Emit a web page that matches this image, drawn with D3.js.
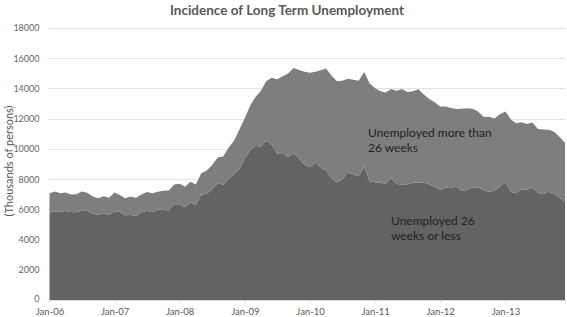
<!DOCTYPE html>
<html>
<head>
<meta charset="utf-8">
<script src="https://cdn.jsdelivr.net/npm/d3@7"></script>
<style>
  body { margin: 0; background: #fff; }
  text { font-family: Lato, "Open Sans", sans-serif; }
</style>
</head>
<body>
<div class="svg_container"></div>
<script>
const WIDTH = 567;
const HEIGHT = 317;
const LEFT = 49.5;
const RIGHT = 565;
const TOP = 28;
const BOTTOM = 300;

// months Jan-06 .. Dec-13
const startMonth = new Date(Date.UTC(2006, 0, 1));
const endMonth = new Date(Date.UTC(2013, 11, 1));

// unemployed 26 weeks or less (thousands)
var shortTerm = [
  5778, 5873, 5823, 5884, 5826, 5806, 5910, 5892, 5701, 5634, 5745, 5631,
  5878, 5817, 5611, 5617, 5559, 5811, 5901, 5811, 5989, 5961, 5936, 6331,
  6340, 6140, 6475, 6279, 6959, 7024, 7337, 7721, 7624, 8012, 8346, 8666,
  9399, 9926, 10198, 10162, 10542, 10264, 9679, 9726, 9467, 9722, 9343, 8972,
  8777, 9080, 8746, 8580, 8058, 7769, 7998, 8440, 8326, 8191, 8816, 7860,
  7799, 7762, 7675, 8057, 7671, 7651, 7662, 7781, 7773, 7800, 7646, 7475,
  7293, 7444, 7389, 7529, 7211, 7298, 7442, 7456, 7279, 7149, 7224, 7522,
  7771, 7151, 7067, 7313, 7295, 7426, 7099, 7006, 7157, 7024, 6742, 6526
];

// unemployed more than 26 weeks (thousands)
var longTerm = [
  1286, 1311, 1249, 1236, 1154, 1195, 1265, 1199, 1146, 1093, 1127, 1131,
  1238, 1110, 1120, 1233, 1207, 1168, 1248, 1256, 1181, 1276, 1304, 1314,
  1345, 1357, 1347, 1358, 1436, 1551, 1600, 1717, 1870, 2062, 2192, 2620,
  2659, 2972, 3228, 3691, 3957, 4443, 4922, 5088, 5542, 5630, 5876, 6126,
  6269, 6033, 6456, 6745, 6791, 6705, 6514, 6208, 6253, 6325, 6265, 6488,
  6214, 6058, 6062, 5900, 6184, 6311, 6101, 6037, 6175, 5794, 5656, 5618,
  5504, 5369, 5324, 5117, 5449, 5394, 5214, 5015, 4836, 4975, 4781, 4776,
  4700, 4799, 4622, 4447, 4359, 4325, 4236, 4273, 4113, 4112, 4045, 3878
];

var yTicks = [0, 2000, 4000, 6000, 8000, 10000, 12000, 14000, 16000, 18000];
var xTickYears = [2006, 2007, 2008, 2009, 2010, 2011, 2012, 2013];

var months = d3.utcMonth.range(startMonth, d3.utcMonth.offset(endMonth, 1));

var rows = months.map(function(m, i) {
  return {date: m, shortTerm: shortTerm[i], longTerm: longTerm[i]};
});

var xScale = d3.scaleUtc()
  .domain([startMonth, endMonth])
  .range([LEFT, RIGHT]);

var yScale = d3.scaleLinear()
  .domain([0, 18000])
  .range([BOTTOM, TOP]);

var svg = d3.select('.svg_container').append('svg')
  .attr('width', WIDTH)
  .attr('height', HEIGHT);

// gridlines
svg.append('g').selectAll('line')
  .data(yTicks.slice(1))
  .enter().append('line')
  .attr('x1', LEFT - 1)
  .attr('x2', RIGHT)
  .attr('y1', function(d) { return Math.round(yScale(d)) + 0.5; })
  .attr('y2', function(d) { return Math.round(yScale(d)) + 0.5; })
  .attr('stroke', '#e4e4e4')
  .attr('stroke-width', 1);

var stack = d3.stack().keys(['shortTerm', 'longTerm']);
var series = stack(rows);
var colors = {shortTerm: '#636363', longTerm: '#7e7e7e'};

var area = d3.area()
  .x(function(d) { return xScale(d.data.date); })
  .y0(function(d) { return yScale(d[0]); })
  .y1(function(d) { return yScale(d[1]); });

svg.append('g').selectAll('path')
  .data(series)
  .enter().append('path')
  .attr('d', area)
  .attr('fill', function(d) { return colors[d.key]; });

// x axis
var xAxis = d3.axisBottom(xScale)
  .tickValues(xTickYears.map(function(y) { return new Date(Date.UTC(y, 0, 1)); }))
  .tickFormat(d3.utcFormat('%b-%y'))
  .tickSizeOuter(0)
  .tickSize(3)
  .tickPadding(5);

var gx = svg.append('g')
  .attr('transform', 'translate(0,' + BOTTOM + ')')
  .call(xAxis);
gx.select('.domain').attr('stroke', '#d9d9d9');
gx.selectAll('.tick line').attr('stroke', '#d9d9d9');
gx.selectAll('.tick text')
  .attr('fill', '#595959')
  .style('font-size', '9.5px');

// y axis
var yAxis = d3.axisLeft(yScale)
  .tickValues(yTicks)
  .tickFormat(d3.format('d'))
  .tickSize(0)
  .tickPadding(10);

var gy = svg.append('g')
  .attr('transform', 'translate(' + LEFT + ',0)')
  .call(yAxis);
gy.select('.domain').remove();
gy.selectAll('.tick text')
  .attr('fill', '#666')
  .style('font-size', '9px');
// keep the "0" label clear of the first month label
gy.selectAll('.tick text')
  .filter(function(d) { return d === 0; })
  .attr('dy', '0.2em');

// title
svg.append('text')
  .attr('x', 287)
  .attr('y', 15)
  .attr('text-anchor', 'middle')
  .attr('fill', '#595959')
  .style('font-size', '13.5px')
  .style('font-weight', 'bold')
  .text('Incidence of Long Term Unemployment');

// y label
svg.append('text')
  .attr('transform', 'translate(13,161) rotate(-90)')
  .attr('text-anchor', 'middle')
  .attr('fill', '#595959')
  .style('font-size', '11px')
  .text('(Thousands of persons)');

// series labels
var labels = [
  {x: 368, y: 137, lines: ['Unemployed more than', '26 weeks']},
  {x: 391, y: 225, lines: ['Unemployed 26', 'weeks or less']}
];
labels.forEach(function(l) {
  var t = svg.append('text')
    .attr('x', l.x)
    .attr('y', l.y)
    .attr('fill', '#222')
    .style('font-size', '12px');
  l.lines.forEach(function(s, i) {
    t.append('tspan')
      .attr('x', l.x)
      .attr('dy', i === 0 ? 0 : 14.5)
      .text(s);
  });
});
</script>
</body>
</html>
